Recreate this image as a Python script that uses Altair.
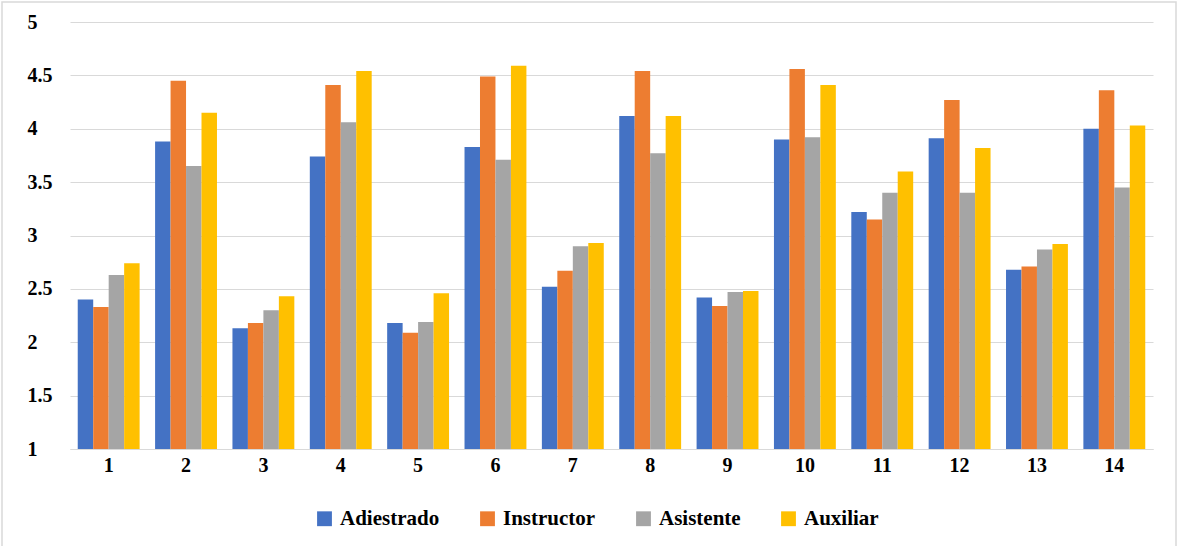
import altair as alt
import pandas as pd

# Item numbers along the x axis
items = [str(i) for i in range(1, 15)]

# Mean score per item for each group
adiestrado = [2.40, 3.88, 2.13, 3.74, 2.18, 3.83, 2.52, 4.12, 2.42, 3.90, 3.22, 3.91, 2.68, 4.00]
instructor = [2.33, 4.45, 2.18, 4.41, 2.09, 4.49, 2.67, 4.54, 2.34, 4.56, 3.15, 4.27, 2.71, 4.36]
asistente = [2.63, 3.65, 2.30, 4.06, 2.19, 3.71, 2.90, 3.77, 2.47, 3.92, 3.40, 3.40, 2.87, 3.45]
auxiliar = [2.74, 4.15, 2.43, 4.54, 2.46, 4.59, 2.93, 4.12, 2.48, 4.41, 3.60, 3.82, 2.92, 4.03]

groups = ["Adiestrado", "Instructor", "Asistente", "Auxiliar"]
colors = ["#4472C4", "#ED7D31", "#A5A5A5", "#FFC000"]
y_ticks = [1, 1.5, 2, 2.5, 3, 3.5, 4, 4.5, 5]

rows = []
for name, vals in zip(groups, [adiestrado, instructor, asistente, auxiliar]):
    for item, v in zip(items, vals):
        rows.append({"item": item, "grupo": name, "valor": v})
df = pd.DataFrame(rows)

FONT = "Liberation Serif"

bars = alt.Chart(df).mark_bar(clip=True).encode(
    x=alt.X(
        "item:N",
        sort=items,
        scale=alt.Scale(paddingInner=0.2, paddingOuter=0.1),
        axis=alt.Axis(
            title=None, labelAngle=0, ticks=False, labelPadding=6,
            domainColor="#d9d9d9", labelFontSize=20, labelFontWeight="bold",
            labelColor="#000000",
        ),
    ),
    xOffset=alt.XOffset("grupo:N", sort=groups, scale=alt.Scale(paddingInner=0, paddingOuter=0)),
    y=alt.Y(
        "valor:Q",
        scale=alt.Scale(domain=[1, 5], nice=False, zero=False),
        axis=alt.Axis(
            title=None, values=y_ticks, format="~g", ticks=False, domain=False,
            gridColor="#d9d9d9", gridWidth=1, labelAlign="left", labelPadding=43,
            labelFontSize=20, labelFontWeight="bold", labelColor="#000000",
        ),
    ),
    y2=alt.datum(1),
    color=alt.Color(
        "grupo:N",
        sort=groups,
        scale=alt.Scale(domain=groups, range=colors),
        legend=alt.Legend(
            title=None, orient="none", direction="horizontal",
            legendX=244, legendY=486, symbolType="square", symbolSize=220,
            symbolStrokeWidth=0, labelFontSize=21, labelFontWeight="bold",
            labelColor="#000000", columnPadding=37, labelOffset=5,
        ),
    ),
)

# Light frame around the figure (top, left and right edges)
frame = alt.Chart(pd.DataFrame({"k": [0]})).mark_rect(
    fill=None, stroke="#d9d9d9", strokeWidth=1.5
).encode(
    x=alt.value(-68), x2=alt.value(1106), y=alt.value(-20), y2=alt.value(530)
)

chart = alt.layer(bars, frame).properties(
    width=1083,
    height=427,
    autosize=alt.AutoSizeParams(type="none"),
    padding={"left": 70, "top": 22, "right": 26, "bottom": 97},
    background="white",
).configure(
    font=FONT
).configure_axis(
    labelFont=FONT
).configure_legend(
    labelFont=FONT
).configure_view(stroke=None)

chart.save("out.html", embed_options={"renderer": "svg", "actions": False})
